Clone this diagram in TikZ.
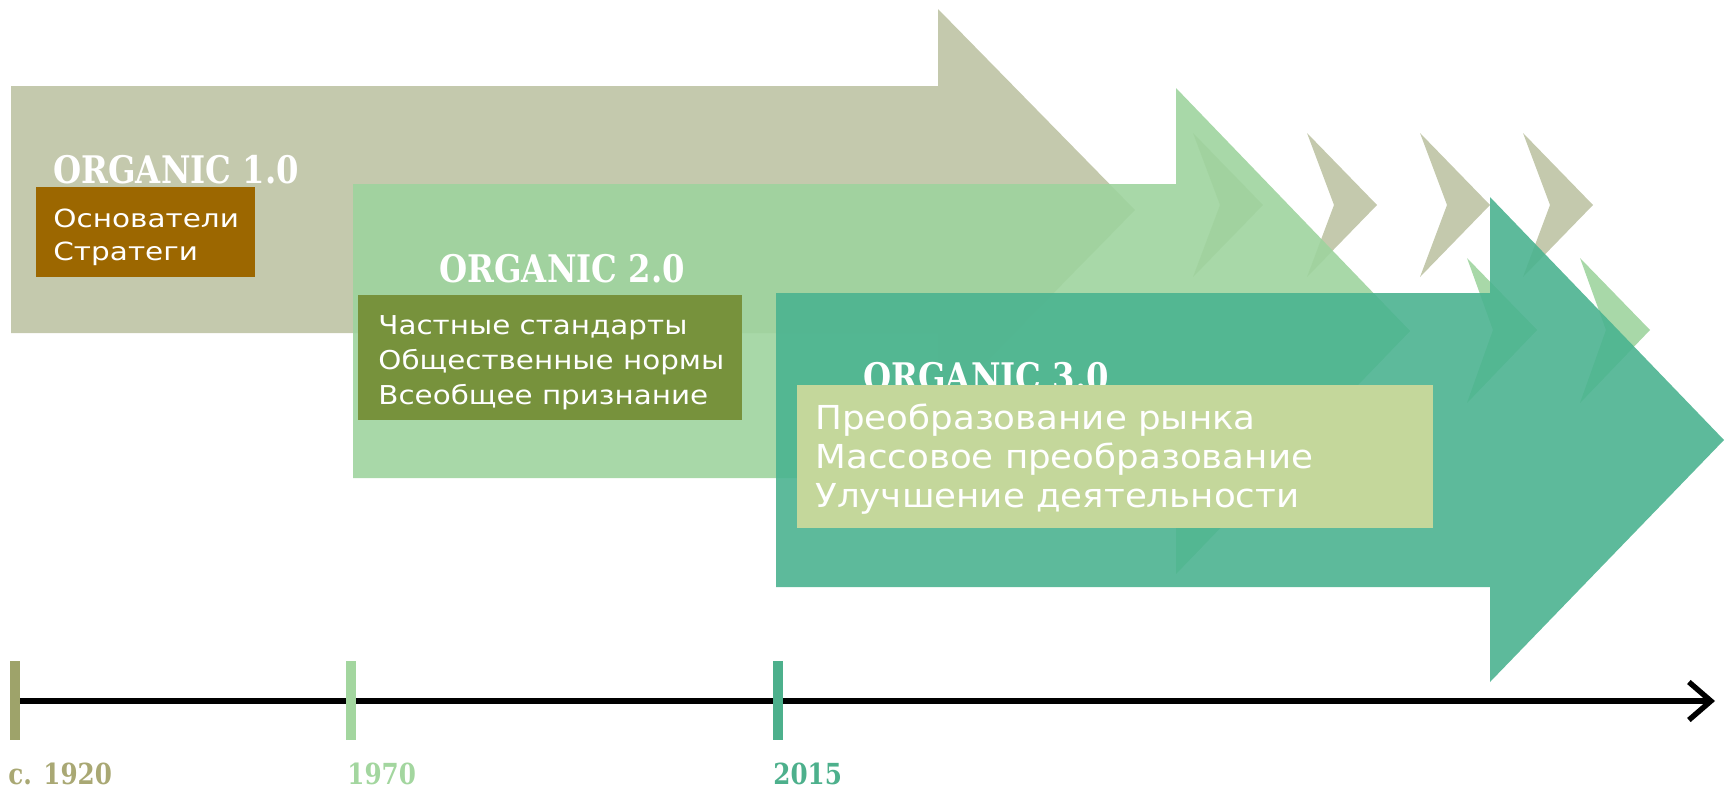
\documentclass[tikz,border=0pt]{standalone}
\usepackage{fontspec}
\usetikzlibrary{arrows.meta}
\newfontfamily\slabfont{DejaVu Serif}[FakeStretch=0.85]
\newfontfamily\txtA{DejaVu Sans}[FakeStretch=1.18]
\newfontfamily\txtB{DejaVu Sans}[FakeStretch=1.13]
\newfontfamily\txtC{DejaVu Sans}[FakeStretch=1.08]
\definecolor{khaki}{HTML}{C4C9AD}
\definecolor{lgreen}{HTML}{9ED49E}
\definecolor{tealc}{HTML}{4BB390}
\definecolor{brownbox}{HTML}{9C6700}
\definecolor{olivebox}{HTML}{77923C}
\definecolor{limebox}{HTML}{C4D79B}
\definecolor{tickA}{HTML}{9EA36A}
\definecolor{tickB}{HTML}{A3D69F}
\definecolor{tickC}{HTML}{4DB08C}
\definecolor{yearA}{HTML}{A9A874}
\begin{document}
\begin{tikzpicture}[x=0.5pt,y=-0.5pt,
  titletext/.style={anchor=base west,inner sep=0pt,text=white,font=\slabfont\bfseries\fontsize{19}{22}\selectfont},
  yeartext/.style={anchor=base west,inner sep=0pt,font=\slabfont\bfseries\fontsize{14.5}{17}\selectfont},
  textA/.style={anchor=base west,inner sep=0pt,text=white,font=\txtA\fontsize{12.5}{15}\selectfont},
  textB/.style={anchor=base west,inner sep=0pt,text=white,font=\txtB\fontsize{13}{15}\selectfont},
  textC/.style={anchor=base west,inner sep=0pt,text=white,font=\txtC\fontsize{16.5}{19}\selectfont},
  greenfill/.style={fill=lgreen,fill opacity=0.9},
  tealfill/.style={fill=tealc,fill opacity=0.9},
  tickmark/.style={line width=5pt}]
\useasboundingbox (0,0) rectangle (1731,788);
% Arrow 1
\fill[khaki] (11,86) -- (938,86) -- (938,9) -- (1135,210) -- (938,411) -- (938,333) -- (11,333) -- cycle;
% khaki chevrons
\foreach \cx in {1193,1307,1420,1523}
  \fill[khaki] (\cx,133) -- (\cx+70,205) -- (\cx,277) -- (\cx+27,205) -- cycle;
% box 1
\fill[brownbox] (36,187) rectangle (255,277);
\node[titletext] (t1) at (53,183) {ORGANIC 1.0};
\node[textA] (a1) at (53,227) {Основатели};
\node[textA] (a2) at (53,260) {Стратеги};
% Arrow 2
\fill[greenfill] (353,184) -- (1176,184) -- (1176,88) -- (1410,331) -- (1176,574) -- (1176,478) -- (353,478) -- cycle;
\foreach \cx in {1467,1580}
  \fill[greenfill] (\cx,258) -- (\cx+70,330) -- (\cx,403) -- (\cx+26,330) -- cycle;
\node[titletext] (t2) at (439,282) {ORGANIC 2.0};
\fill[olivebox] (358,295) rectangle (742,420);
\node[textB] (b1) at (378,334) {Частные стандарты};
\node[textB] (b2) at (378,369) {Общественные нормы};
\node[textB] (b3) at (378,404) {Всеобщее признание};
% Arrow 3
\fill[tealfill] (776,293) -- (1490,293) -- (1490,197) -- (1724,440) -- (1490,682) -- (1490,587) -- (776,587) -- cycle;
\node[titletext] (t3) at (863,390) {ORGANIC 3.0};
\fill[limebox] (797,385) rectangle (1433,528);
\node[textC] (c1) at (815,429) {Преобразование рынка};
\node[textC] (c2) at (815,468) {Массовое преобразование};
\node[textC] (c3) at (815,507) {Улучшение деятельности};
% timeline
\coordinate (axstart) at (15,701);
\coordinate (axend) at (1715,701);
\draw[line width=2.7pt,-{Straight Barb[length=11pt,width=19pt,line width=2.7pt]}] (axstart) -- (axend);
\coordinate (k1top) at (15,661); \coordinate (k1bot) at (15,740);
\coordinate (k2top) at (351,661); \coordinate (k2bot) at (351,740);
\coordinate (k3top) at (778,661); \coordinate (k3bot) at (778,740);
\draw[tickmark,tickA] (k1top) -- (k1bot);
\draw[tickmark,tickB] (k2top) -- (k2bot);
\draw[tickmark,tickC] (k3top) -- (k3bot);
\node[yeartext,text=yearA] (y1) at (8,784) {c. 1920};
\node[yeartext,text=tickB] (y2) at (347,784) {1970};
\node[yeartext,text=tickC] (y3) at (773,784) {2015};
\end{tikzpicture}
\end{document}
